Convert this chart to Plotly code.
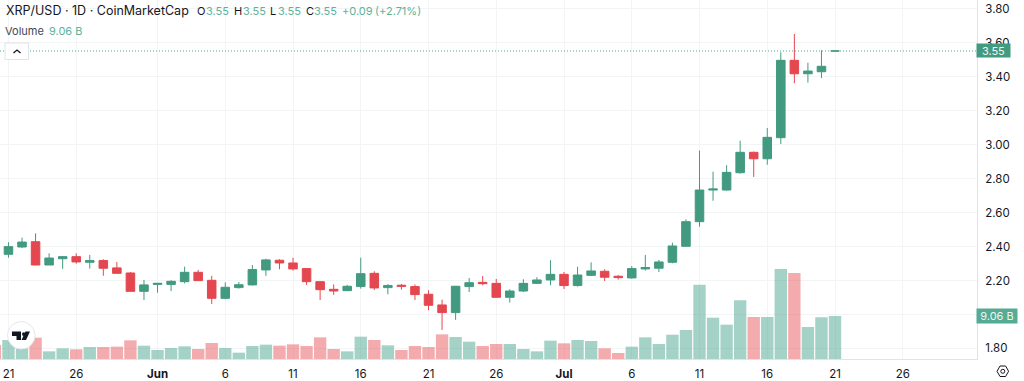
import plotly.graph_objects as go

dates = ["2025-05-20","2025-05-21","2025-05-22","2025-05-23","2025-05-24","2025-05-25","2025-05-26","2025-05-27","2025-05-28","2025-05-29","2025-05-30","2025-05-31",
"2025-06-01","2025-06-02","2025-06-03","2025-06-04","2025-06-05","2025-06-06","2025-06-07","2025-06-08","2025-06-09","2025-06-10","2025-06-11","2025-06-12","2025-06-13","2025-06-14","2025-06-15","2025-06-16","2025-06-17","2025-06-18","2025-06-19","2025-06-20","2025-06-21","2025-06-22","2025-06-23","2025-06-24","2025-06-25","2025-06-26","2025-06-27","2025-06-28","2025-06-29","2025-06-30",
"2025-07-01","2025-07-02","2025-07-03","2025-07-04","2025-07-05","2025-07-06","2025-07-07","2025-07-08","2025-07-09","2025-07-10","2025-07-11","2025-07-12","2025-07-13","2025-07-14","2025-07-15","2025-07-16","2025-07-17","2025-07-18","2025-07-19","2025-07-20","2025-07-21"]
opens = [2.380,2.354,2.397,2.428,2.291,2.328,2.340,2.307,2.317,2.274,2.244,2.136,
2.177,2.177,2.193,2.248,2.201,2.095,2.158,2.174,2.262,2.319,2.303,2.270,2.193,2.148,2.140,2.164,2.242,2.158,2.172,2.164,2.119,2.056,2.011,2.164,2.189,2.183,2.101,2.138,2.183,2.203,
2.236,2.170,2.230,2.254,2.225,2.215,2.268,2.272,2.307,2.401,2.546,2.732,2.732,2.834,2.954,2.916,3.040,3.495,3.416,3.428,3.550]
highs = [2.390,2.425,2.452,2.477,2.360,2.344,2.360,2.350,2.325,2.309,2.250,2.203,
2.183,2.201,2.281,2.262,2.227,2.189,2.191,2.291,2.328,2.325,2.334,2.270,2.193,2.177,2.174,2.334,2.254,2.179,2.179,2.177,2.142,2.087,2.168,2.215,2.227,2.209,2.148,2.207,2.219,2.319,
2.250,2.280,2.307,2.266,2.232,2.285,2.350,2.321,2.422,2.560,2.964,2.840,2.878,3.022,2.958,3.097,3.542,3.650,3.481,3.554,3.550]
lows = [2.340,2.334,2.391,2.291,2.291,2.268,2.299,2.270,2.228,2.242,2.136,2.085,
2.128,2.138,2.183,2.197,2.062,2.089,2.152,2.170,2.227,2.266,2.258,2.174,2.085,2.115,2.138,2.152,2.144,2.119,2.146,2.085,2.025,1.909,1.968,2.132,2.172,2.101,2.070,2.132,2.179,2.172,
2.150,2.164,2.226,2.197,2.205,2.211,2.258,2.250,2.301,2.399,2.516,2.669,2.728,2.828,2.809,2.881,3.003,3.360,3.364,3.391,3.550]
closes = [2.352,2.399,2.426,2.291,2.332,2.340,2.309,2.317,2.272,2.242,2.136,2.174,
2.183,2.195,2.248,2.199,2.095,2.160,2.175,2.264,2.321,2.303,2.268,2.193,2.146,2.138,2.166,2.240,2.156,2.170,2.166,2.117,2.054,2.011,2.166,2.187,2.181,2.101,2.138,2.183,2.203,2.236,
2.170,2.232,2.256,2.219,2.217,2.270,2.276,2.309,2.403,2.546,2.732,2.738,2.836,2.954,2.916,3.042,3.495,3.416,3.432,3.460,3.550]
volumes = [2.95,4.00,2.25,4.49,1.61,2.25,2.04,2.53,2.53,2.60,3.93,2.81,
1.90,2.32,2.67,2.11,3.37,2.32,1.33,2.74,3.02,2.81,3.09,2.74,4.56,2.11,1.61,4.70,4.00,2.88,1.90,2.74,2.53,5.19,4.63,3.65,2.74,3.16,3.16,2.11,1.61,3.86,
3.30,4.00,3.79,2.25,1.26,2.60,4.56,3.16,5.12,6.11,15.65,8.70,7.23,12.37,8.85,8.85,18.96,18.12,6.74,8.79,9.06]

x_tick_dates = ["2025-05-21","2025-05-26","2025-06-01","2025-06-06","2025-06-11","2025-06-16","2025-06-21","2025-06-26","2025-07-01","2025-07-06","2025-07-11","2025-07-16","2025-07-21","2025-07-26"]
x_tick_labels = ["21","26","<b>Jun</b>","6","11","16","21","26","<b>Jul</b>","6","11","16","21","26"]
price_ticks = [1.8,2.0,2.2,2.4,2.6,2.8,3.0,3.2,3.4,3.6,3.8]
price_labels = ["1.80","","2.20","2.40","2.60","2.80","3.00","3.20","3.40","3.60","3.80"]
last_price = 3.55
last_price_label = "3.55"
last_volume_label = "9.06 B"

GREEN = "#429a80"
RED = "#e4474f"
W, H = 1024, 381
PX = lambda v: v / W
PY = lambda v: 1 - v / H
TEXT = "#131722"
FONT = "Inter, Roboto, sans-serif"
TEAL = "#5cb399"

bar_colors = ["rgba(66,160,138,0.48)" if c >= o else "rgba(228,71,79,0.46)" for o, c in zip(opens, closes)]

fig = go.Figure()
fig.add_trace(go.Bar(x=dates, y=volumes, yaxis="y", marker=dict(color=bar_colors, line=dict(width=0)),
                     width=79e6, hoverinfo="skip", showlegend=False))
fig.add_trace(go.Candlestick(x=dates, open=opens, high=highs, low=lows, close=closes, yaxis="y2",
                             increasing=dict(line=dict(color=GREEN, width=1), fillcolor=GREEN),
                             decreasing=dict(line=dict(color=RED, width=1), fillcolor=RED),
                             whiskerwidth=0, hoverinfo="skip", showlegend=False))

shapes = [
    dict(type="line", xref="paper", yref="y2", x0=0, x1=PX(977), y0=last_price, y1=last_price,
         line=dict(color="#4aa88d", width=1, dash="1px,2px"), layer="above"),
    dict(type="rect", xref="paper", yref="paper", x0=PX(5), x1=PX(28.5), y0=PY(59.5), y1=PY(43),
         fillcolor="white", line=dict(color="#e0e3eb", width=1), layer="above"),
    dict(type="path", xref="paper", yref="paper",
         path=f"M {PX(13.5)},{PY(53)} L {PX(17)},{PY(50)} L {PX(20.5)},{PY(53)}",
         line=dict(color="#131722", width=1.3), layer="above"),
    dict(type="circle", xref="paper", yref="paper", x0=PX(7.5), x1=PX(35), y0=PY(349), y1=PY(321.5),
         fillcolor="white", line=dict(color="#e6e7ef", width=1), layer="above"),
    dict(type="path", xref="paper", yref="paper",
         path=f"M {PX(12)},{PY(331.5)} H {PX(21)} V {PY(340)} H {PX(16.5)} V {PY(336)} H {PX(12)} Z",
         fillcolor="#131722", line=dict(width=0), layer="above"),
    dict(type="circle", xref="paper", yref="paper", x0=PX(22), x1=PX(25.5), y0=PY(336), y1=PY(332.2),
         fillcolor="#131722", line=dict(width=0), layer="above"),
    dict(type="path", xref="paper", yref="paper",
         path=f"M {PX(30)},{PY(331.5)} L {PX(26)},{PY(340)} H {PX(21.5)} L {PX(25.5)},{PY(331.5)} Z",
         fillcolor="#131722", line=dict(width=0), layer="above"),
    dict(type="path", xref="paper", yref="paper",
         path=f"M {PX(997)},{PY(371.3)} L {PX(1000)},{PY(366)} H {PX(1005.6)} L {PX(1008.6)},{PY(371.3)} L {PX(1005.6)},{PY(376.5)} H {PX(1000)} Z",
         line=dict(color="#131722", width=1), layer="above"),
    dict(type="circle", xref="paper", yref="paper", x0=PX(1000.8), x1=PX(1004.8), y0=PY(373.3), y1=PY(369.3),
         line=dict(color="#131722", width=1), layer="above"),
]

def note(text, x, y, size=13, color=TEXT, anchor="left", **kw):
    return dict(text=text, xref="paper", yref="paper", x=PX(x), y=PY(y), xanchor=anchor, yanchor="middle",
                showarrow=False, font=dict(family=FONT, size=size, color=color), **kw)

annotations = [
    note("XRP/USD · 1D · CoinMarketCap", 4, 11, 12.5),
    note("O", 195, 11, 11), note("3.55", 204, 11, 11, TEAL),
    note("H", 232, 11, 11), note("3.55", 241, 11, 11, TEAL),
    note("L", 268, 11, 11), note("3.55", 276, 11, 11, TEAL),
    note("C", 303.5, 11, 11), note("3.55", 312, 11, 11, TEAL),
    note("+0.09", 339.5, 11, 11, TEAL), note("(+2.71%)", 373, 11, 11, TEAL),
    note("Volume", 3, 31, 11, "#434651"),
    note("9.06 B", 47, 31, 11, TEAL),
    note(last_price_label, 993.5, 50.5, 11, "#eef7f4", "center",
         bgcolor=GREEN, width=33, height=13, borderpad=0),
    note(last_volume_label, 997, 316, 11, "#eef7f4", "center",
         bgcolor="#55ab93", width=40, height=14, borderpad=0),
]

fig.update_layout(
    width=W, height=H, autosize=False, margin=dict(l=0, r=0, t=0, b=0),
    paper_bgcolor="white", plot_bgcolor="white", showlegend=False, barmode="overlay", boxgap=0.1,
    font=dict(family=FONT, size=11, color=TEXT),
    xaxis=dict(type="date", domain=[0, 977 / W], range=["2025-05-20 09:00", "2025-07-31 11:30"],
               tickmode="array", tickvals=x_tick_dates, ticktext=x_tick_labels, showgrid=True,
               gridcolor="#f3f4f6", gridwidth=1, showline=True, linecolor="#e0e3eb", linewidth=1,
               ticks="", rangeslider=dict(visible=False), zeroline=False, fixedrange=True,
               tickfont=dict(family=FONT, size=11.5, color=TEXT), ticklabelstandoff=4),
    yaxis=dict(domain=[22 / H, 1], range=[0, 75.6], visible=False, fixedrange=True),
    yaxis2=dict(overlaying="y", side="right", anchor="x", range=[1.738, 3.85], tickmode="array",
                tickvals=price_ticks, ticktext=price_labels, showgrid=True, gridcolor="#f3f4f6",
                gridwidth=1, showline=True, linecolor="#e0e3eb", linewidth=1, ticks="", zeroline=False,
                fixedrange=True, tickfont=dict(family=FONT, size=11.5, color="#131722"), ticklabelstandoff=5),
    shapes=shapes, annotations=annotations,
)

fig.write_html("out.html", config=dict(displayModeBar=False, staticPlot=True),
               post_script="document.body.style.margin='0';document.body.style.overflow='hidden';")
